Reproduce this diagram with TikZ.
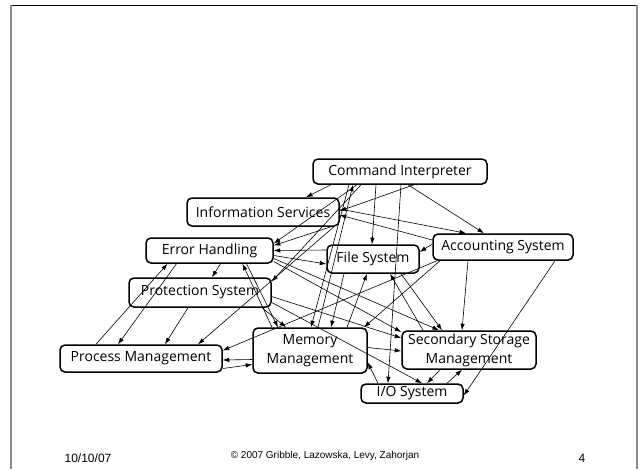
\documentclass[tikz,border=0pt]{standalone}
\usepackage{fontspec}
\setmainfont{Open Sans}
\newfontfamily\footfont{Liberation Sans}
\usetikzlibrary{arrows.meta}

\tikzset{
  box/.style={draw, line width=1.5pt, rounded corners=5pt, inner sep=0pt,
    align=center, font=\fontsize{14}{19}\selectfont},
  arr/.style={-{Latex[length=6.5pt,width=4.5pt]}, line width=0.6pt},
}

\begin{document}
\begin{tikzpicture}[x=1pt,y=-1pt]
\useasboundingbox (0,0) rectangle (640,469);

% slide frame
\draw[line width=0.8pt] (11,5) -- (637,5);
\draw[black!45, line width=2pt] (11,5) -- (11,469);
\draw[black!45, line width=2pt] (637,5) -- (637,469);

% the modules
\node[box, minimum width=174pt, minimum height=25pt] (ci)   at (400,171.5) {Command Interpreter};
\node[box, minimum width=152pt, minimum height=28pt] (info) at (263,212)   {Information Services};
\node[box, minimum width=127pt, minimum height=25pt] (err)  at (209.5,250.5) {Error Handling};
\node[box, minimum width=92pt,  minimum height=28pt] (fs)   at (373,259)   {File System};
\node[box, minimum width=140pt, minimum height=26pt] (acc)  at (503,247)   {Accounting System};
\node[box, minimum width=142pt, minimum height=29pt] (prot) at (200,292.5) {Protection System};
\node[box, minimum width=162pt, minimum height=27pt] (pm)   at (141,358.5) {Process Management};
\node[box, minimum width=114pt, minimum height=45pt] (mm)   at (310,350.5) {Memory\\Management};
\node[box, minimum width=134pt, minimum height=38pt] (ssm)  at (469,350)   {Secondary Storage\\Management};
\node[box, minimum width=102pt, minimum height=19pt] (io)   at (412,393.5) {I/O System};

% from the command interpreter
\draw[arr] ([xshift=-69pt]ci.south) -- ([xshift=43pt]info.north);
\draw[arr] ([xshift=-43pt]ci.south) -- ([yshift=7pt]err.east);
\draw[arr] ([xshift=-39pt]ci.south) -- ([yshift=11pt]prot.east);
\draw[arr] ([xshift=-24pt]ci.south) -- ([xshift=-1pt]fs.north);
\draw[arr] ([xshift=1pt]ci.south) -- ([xshift=-24pt]io.north);
\draw[arr] ([xshift=8pt]ci.south) -- ([xshift=-19pt]acc.north);
\draw[arr] ([xshift=14pt]ci.south) -- ([yshift=1pt]info.east);
\draw[arr] ([xshift=-51pt]ci.south) -- ([xshift=1pt]mm.north);
\draw[arr] ([xshift=8pt]mm.north) -- ([xshift=-47pt]ci.south);

% information services
\draw[arr] ([yshift=3pt]info.east) -- ([xshift=-37pt]acc.north);
\draw[arr] ([yshift=7pt]acc.west) -- ([yshift=-3pt]info.east);
\draw[arr] ([xshift=68pt]info.south) -- ([yshift=5pt]err.east);
\draw[arr] ([xshift=71pt]info.south) -- ([xshift=57pt]pm.north);

% error handling
\draw[arr] ([yshift=9pt]fs.west) -- (err.east);
\draw[arr] ([yshift=-5pt]err.east) -- ([yshift=-5pt]fs.west);
\draw[arr] ([xshift=11pt]err.south) -- ([xshift=12pt]prot.north);
\draw[arr] ([xshift=-33pt]err.south) -- ([xshift=-23pt]pm.north);
\draw[arr] ([xshift=-45pt]pm.north) -- ([xshift=-42pt]err.south);
\draw[arr] ([xshift=37pt]err.south) -- ([xshift=-32pt]mm.north);
\draw[arr] ([xshift=-38pt]mm.north) -- ([xshift=33pt]err.south);
\draw[arr] ([yshift=-8pt]err.east) -- ([xshift=-30pt]ssm.north);
\draw[arr] ([yshift=-11pt]err.east) -- ([yshift=18pt]ssm.west);

% protection system
\draw[arr] ([xshift=-12pt]prot.south) -- ([xshift=24pt]pm.north);
\draw[arr] ([yshift=-4pt]prot.east) -- ([yshift=12pt]ssm.west);
\draw[arr] ([xshift=62pt]prot.south) -- ([xshift=-24pt]mm.north);
\draw[arr] ([yshift=-10pt]prot.east) -- ([xshift=10pt]io.north);

% memory and process management
\draw[arr] ([yshift=-9pt]mm.west) -- ([yshift=-1.5pt]pm.east);
\draw[arr] ([yshift=-10pt]pm.east) -- ([yshift=-14pt]mm.west);
\draw[arr] ([yshift=3pt]mm.east) -- ([yshift=-1pt]ssm.west);
\draw[arr] ([xshift=-34pt]io.north) -- ([yshift=-12pt]mm.east);
\draw[arr] ([xshift=37pt]mm.north) -- ([xshift=-6pt]fs.south);
\draw[arr] ([xshift=-29pt]fs.south) -- ([xshift=21pt]mm.north);

% file system
\draw[arr] ([xshift=28pt]fs.south) -- ([xshift=-27pt]ssm.north);
\draw[arr] ([xshift=-46pt]ssm.north) -- ([xshift=17pt]fs.south);

% accounting system
\draw[arr] ([yshift=3pt]acc.west) -- ([yshift=7pt]fs.east);
\draw[arr] ([xshift=-66pt]acc.south) -- ([yshift=8pt]pm.east);
\draw[arr] ([xshift=-63pt]acc.south) -- ([xshift=54pt]mm.north);
\draw[arr] ([xshift=-35pt]acc.south) -- ([xshift=-7pt]ssm.north);
\draw[arr] ([xshift=52pt]acc.south) -- ([yshift=-2pt]io.east);

% secondary storage and i/o
\draw[arr] ([xshift=-29pt]ssm.south) -- ([xshift=15pt]io.north);
\draw[arr] ([xshift=35pt]io.north) -- ([xshift=-7pt]ssm.south);

% footer
\node[font=\footfont\fontsize{12}{14}\selectfont] (date) at (88,458) {10/10/07};
\node[font=\footfont\fontsize{10}{12}\selectfont] (copy) at (325,456) {© 2007 Gribble, Lazowska, Levy, Zahorjan};
\node[font=\footfont\fontsize{12}{14}\selectfont] (page) at (582,458) {4};
\end{tikzpicture}
\end{document}
